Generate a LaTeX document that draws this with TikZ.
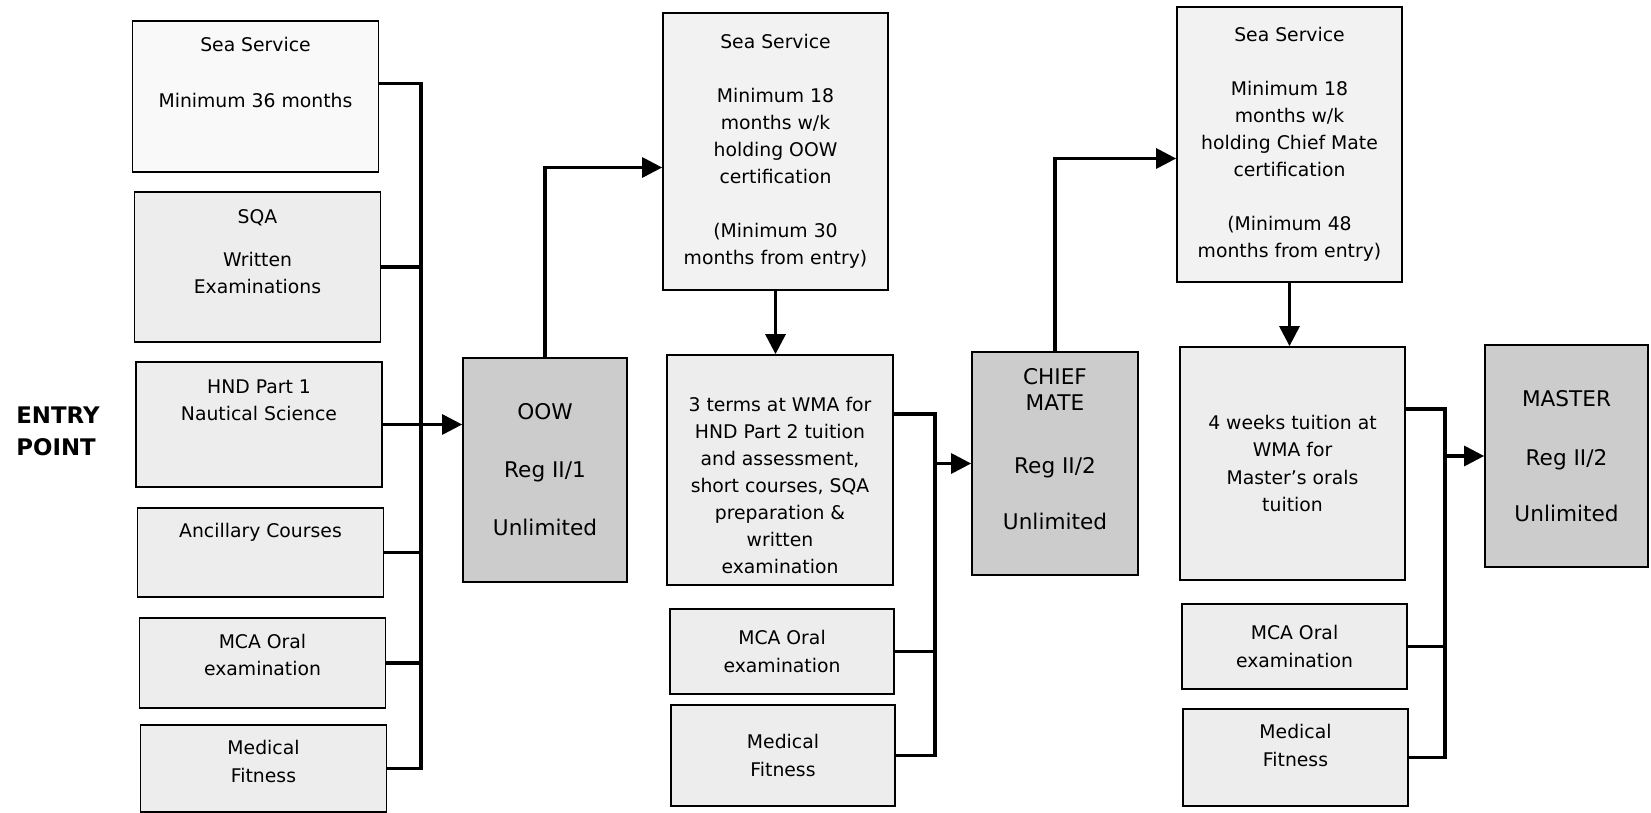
\documentclass[tikz,border=0pt]{standalone}
\usepackage{fontspec}
\setmainfont{DejaVu Sans}
\usetikzlibrary{arrows.meta,positioning}

\tikzset{
	box/.style={draw, line width=1pt, fill=gray!14, inner sep=2pt, align=center, font=\fontsize{10.7}{15.4}\selectfont},
	lbl/.style={align=center, inner sep=0pt, font=\fontsize{10.7}{15.4}\selectfont},
	certbox/.style={box, fill=gray!40, font=\fontsize{12.3}{14.8}\selectfont},
	certlbl/.style={lbl, font=\fontsize{12.3}{14.8}\selectfont},
	link/.style={line width=1.8pt},
	arr/.style={link, -{Triangle[length=4mm,width=4mm]}}
}

\begin{document}
\begin{tikzpicture}
		\useasboundingbox (0,0) rectangle (33.02,-16.26);
		% entry column
		\node[box, fill=gray!5, minimum width=4.92cm, minimum height=3.02cm] (ss1) at (5.11,-1.93) {};
		\node[lbl] (ss1t) at (5.11,-1.45) {Sea Service\\[0.56cm]Minimum 36 months};
		\node[box, minimum width=4.92cm, minimum height=3cm] (sqa) at (5.15,-5.34) {};
		\node[lbl] (sqat) at (5.15,-5.04) {SQA\\[0.32cm]Written\\Examinations};
		\node[box, minimum width=4.92cm, minimum height=2.5cm] (hnd1) at (5.18,-8.49) {};
		\node[lbl] (hnd1t) at (5.18,-8.0) {HND Part 1\\Nautical Science};
		\node[box, minimum width=4.92cm, minimum height=1.78cm] (anc) at (5.21,-11.05) {};
		\node[lbl] (anct) at (5.21,-10.64) {Ancillary Courses};
		\node[box, minimum width=4.92cm, minimum height=1.8cm] (mca1) at (5.25,-13.26) {};
		\node[lbl] (mca1t) at (5.25,-13.1) {MCA Oral\\examination};
		\node[box, minimum width=4.92cm, minimum height=1.74cm] (med1) at (5.27,-15.37) {};
		\node[lbl] (med1t) at (5.27,-15.23) {Medical\\Fitness};
		\node[anchor=west, inner sep=0pt, align=left, font=\bfseries\fontsize{13}{18.2}\selectfont] (entry) at (0.32,-8.62) {ENTRY\\POINT};
		% OOW
		\node[certbox, minimum width=3.28cm, minimum height=4.48cm] (oow) at (10.9,-9.4) {OOW\\[0.64cm]Reg II/1\\[0.64cm]Unlimited};
		% chief mate column
		\node[box, fill=gray!10, minimum width=4.5cm, minimum height=5.54cm] (ss2) at (15.51,-3.03) {Sea Service\\[0.54cm]Minimum 18\\months w/k\\holding OOW\\certification\\[0.54cm](Minimum 30\\months from entry)};
		\node[box, minimum width=4.52cm, minimum height=4.6cm] (terms) at (15.6,-9.4) {};
		\node[lbl] (termst) at (15.6,-9.71) {3 terms at WMA for\\HND Part 2 tuition\\and assessment,\\short courses, SQA\\preparation \&\\written\\examination};
		\node[box, minimum width=4.48cm, minimum height=1.7cm] (mca2) at (15.64,-13.03) {MCA Oral\\examination};
		\node[box, minimum width=4.48cm, minimum height=2.02cm] (med2) at (15.66,-15.11) {Medical\\Fitness};
		\node[certbox, minimum width=3.32cm, minimum height=4.46cm] (cm) at (21.1,-9.27) {};
		\node[certlbl] (cmt) at (21.1,-8.99) {CHIEF\\MATE\\[0.74cm]Reg II/2\\[0.6cm]Unlimited};
		% master column
		\node[box, fill=gray!10, minimum width=4.5cm, minimum height=5.5cm] (ss3) at (25.79,-2.89) {Sea Service\\[0.54cm]Minimum 18\\months w/k\\holding Chief Mate\\certification\\[0.54cm](Minimum 48\\months from entry)};
		\node[box, minimum width=4.5cm, minimum height=4.66cm] (wk) at (25.85,-9.27) {4 weeks tuition at\\WMA for\\Master’s orals\\tuition};
		\node[box, minimum width=4.5cm, minimum height=1.7cm] (mca3) at (25.89,-12.93) {MCA Oral\\examination};
		\node[box, minimum width=4.5cm, minimum height=1.94cm] (med3) at (25.91,-15.15) {};
		\node[lbl] (med3t) at (25.91,-14.91) {Medical\\Fitness};
		\node[certbox, minimum width=3.26cm, minimum height=4.44cm] (master) at (31.33,-9.12) {MASTER\\[0.66cm]Reg II/2\\[0.6cm]Unlimited};
		% buses
		\coordinate (bus1) at (8.42,0);
		\coordinate (bus2) at (18.7,0);
		\coordinate (bus3) at (28.9,0);
		\draw[link] ([yshift=0.26cm]ss1.east) -| (bus1 |- med1.east) -- (med1.east);
		\draw[link] (sqa.east) -- (sqa.east -| bus1);
		\draw[link] (anc.east) -- (anc.east -| bus1);
		\draw[link] (mca1.east) -- (mca1.east -| bus1);
		\draw[arr] (hnd1.east) -- (oow.west |- hnd1.east);
		\draw[arr] (oow.north) |- ([yshift=-0.32cm]ss2.west);
		\draw[arr] (ss2.south) -- (ss2.south |- terms.north);
		\draw[link] ([yshift=1.12cm]terms.east) -| (bus2 |- med2.east) -- (med2.east);
		\draw[link] (mca2.east) -- (mca2.east -| bus2);
		\draw[arr] (bus2 |- cm.west) -- (cm.west);
		\draw[arr] (cm.north) |- ([yshift=-0.28cm]ss3.west);
		\draw[arr] (ss3.south) -- (ss3.south |- wk.north);
		\draw[link] ([yshift=1.09cm]wk.east) -| (bus3 |- med3.east) -- (med3.east);
		\draw[link] (mca3.east) -- (mca3.east -| bus3);
		\draw[arr] (bus3 |- master.west) -- (master.west);
\end{tikzpicture}
\end{document}
